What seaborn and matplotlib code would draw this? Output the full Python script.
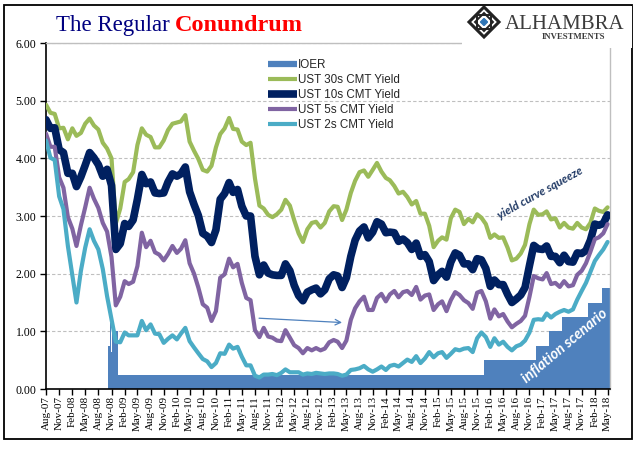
import numpy as np
import pandas as pd
import matplotlib
matplotlib.use('Agg')
import matplotlib.pyplot as plt
import matplotlib.dates as mdates
from matplotlib.lines import Line2D
from matplotlib.patches import Rectangle, Polygon
import seaborn as sns

# monthly readings, Aug-07 .. May-18
months = pd.date_range('2007-08-01', '2018-05-01', freq='MS')

ust30 = [4.93, 4.79, 4.77, 4.52, 4.53,
         4.33, 4.52, 4.39, 4.44, 4.60, 4.69, 4.57, 4.50, 4.27, 4.17, 4.00, 2.87,
         3.13, 3.59, 3.64, 3.76, 4.23, 4.52, 4.41, 4.37, 4.19, 4.19, 4.31, 4.49,
         4.60, 4.62, 4.64, 4.75, 4.29, 4.13, 3.99, 3.80, 3.77, 3.87, 4.19, 4.42,
         4.52, 4.70, 4.51, 4.50, 4.29, 4.23, 4.27, 3.65, 3.18, 3.13, 3.02, 2.98,
         3.03, 3.11, 3.28, 3.18, 2.93, 2.70, 2.55, 2.77, 2.88, 2.90, 2.80, 2.88,
         3.08, 3.17, 3.16, 2.93, 3.11, 3.40, 3.61, 3.76, 3.79, 3.68, 3.80, 3.92,
         3.77, 3.66, 3.62, 3.52, 3.39, 3.42, 3.33, 3.20, 3.26, 3.04, 3.04, 2.83,
         2.46, 2.57, 2.63, 2.59, 2.96, 3.11, 3.07, 2.86, 2.95, 2.89, 3.03, 2.97,
         2.86, 2.62, 2.68, 2.62, 2.63, 2.45, 2.23, 2.26, 2.35, 2.50, 2.86, 3.11,
         3.02, 3.03, 3.08, 2.94, 2.96, 2.80, 2.88, 2.80, 2.78, 2.88, 2.80, 2.77,
         2.88, 3.13, 3.09, 3.07, 3.15]

ust10 = [4.67, 4.52, 4.53, 4.15, 4.10,
         3.74, 3.74, 3.51, 3.68, 3.88, 4.10, 4.01, 3.89, 3.69, 3.81, 3.53, 2.42,
         2.52, 2.87, 2.82, 2.93, 3.29, 3.72, 3.56, 3.59, 3.40, 3.39, 3.40, 3.59,
         3.73, 3.69, 3.73, 3.85, 3.42, 3.20, 3.01, 2.70, 2.65, 2.54, 2.76, 3.29,
         3.39, 3.58, 3.41, 3.46, 3.17, 3.00, 3.00, 2.30, 1.98, 2.15, 2.01, 1.98,
         1.97, 1.97, 2.17, 2.05, 1.80, 1.62, 1.53, 1.68, 1.72, 1.75, 1.65, 1.72,
         1.91, 1.98, 1.96, 1.76, 1.93, 2.30, 2.58, 2.74, 2.81, 2.62, 2.72, 2.90,
         2.86, 2.71, 2.72, 2.71, 2.56, 2.60, 2.54, 2.42, 2.53, 2.30, 2.33, 2.21,
         1.88, 1.98, 2.04, 1.94, 2.20, 2.36, 2.32, 2.17, 2.17, 2.07, 2.26, 2.24,
         2.09, 1.78, 1.89, 1.81, 1.81, 1.64, 1.50, 1.56, 1.63, 1.76, 2.14, 2.49,
         2.43, 2.42, 2.48, 2.30, 2.30, 2.19, 2.32, 2.21, 2.20, 2.36, 2.35, 2.40,
         2.58, 2.86, 2.84, 2.87, 3.02]

ust5 = [4.43, 4.20, 4.20, 3.67, 3.49,
        2.98, 2.78, 2.48, 2.84, 3.15, 3.49, 3.30, 3.14, 2.88, 2.73, 2.29, 1.45,
        1.60, 1.87, 1.82, 1.86, 2.13, 2.71, 2.46, 2.57, 2.37, 2.33, 2.23, 2.34,
        2.48, 2.36, 2.43, 2.58, 2.18, 2.00, 1.76, 1.47, 1.41, 1.18, 1.35, 1.93,
        1.99, 2.26, 2.11, 2.17, 1.84, 1.58, 1.54, 1.02, 0.90, 1.06, 0.91, 0.89,
        0.84, 0.83, 1.02, 0.89, 0.76, 0.71, 0.62, 0.71, 0.67, 0.71, 0.67, 0.70,
        0.81, 0.85, 0.82, 0.71, 0.84, 1.20, 1.40, 1.52, 1.60, 1.37, 1.37, 1.58,
        1.65, 1.52, 1.64, 1.70, 1.59, 1.68, 1.70, 1.63, 1.77, 1.55, 1.62, 1.64,
        1.37, 1.47, 1.52, 1.35, 1.54, 1.68, 1.63, 1.54, 1.49, 1.39, 1.67, 1.70,
        1.52, 1.22, 1.38, 1.26, 1.30, 1.17, 1.07, 1.13, 1.18, 1.27, 1.60, 1.96,
        1.92, 1.90, 2.01, 1.82, 1.84, 1.77, 1.87, 1.78, 1.80, 1.98, 2.05, 2.18,
        2.38, 2.60, 2.63, 2.70, 2.86]

ust2 = [4.31, 4.01, 3.97, 3.34, 3.12,
        2.48, 1.97, 1.50, 2.05, 2.45, 2.77, 2.57, 2.42, 2.08, 1.61, 1.21, 0.82,
        0.81, 0.98, 0.93, 0.93, 0.93, 1.18, 1.02, 1.12, 0.96, 0.95, 0.80, 0.87,
        0.93, 0.86, 0.96, 1.06, 0.83, 0.72, 0.62, 0.52, 0.48, 0.38, 0.45, 0.62,
        0.61, 0.77, 0.70, 0.73, 0.56, 0.41, 0.41, 0.23, 0.20, 0.25, 0.25, 0.26,
        0.24, 0.28, 0.34, 0.29, 0.29, 0.29, 0.25, 0.27, 0.26, 0.28, 0.27, 0.26,
        0.27, 0.27, 0.26, 0.23, 0.25, 0.33, 0.34, 0.36, 0.40, 0.34, 0.30, 0.34,
        0.39, 0.33, 0.40, 0.42, 0.39, 0.45, 0.51, 0.47, 0.57, 0.45, 0.53, 0.64,
        0.55, 0.62, 0.64, 0.54, 0.61, 0.69, 0.67, 0.70, 0.71, 0.64, 0.88, 0.98,
        0.90, 0.73, 0.88, 0.77, 0.82, 0.73, 0.67, 0.74, 0.77, 0.84, 0.98, 1.20,
        1.21, 1.20, 1.31, 1.24, 1.30, 1.34, 1.37, 1.34, 1.38, 1.55, 1.70, 1.84,
        2.03, 2.22, 2.32, 2.42, 2.55]

# IOER step changes
ioer_dates = pd.to_datetime(['2008-10-09', '2008-10-23', '2008-10-30', '2008-11-06',
                             '2008-12-17', '2015-12-17', '2016-12-15', '2017-03-16',
                             '2017-06-15', '2017-12-14', '2018-03-22', '2018-05-20'])
ioer_rates = [0.75, 1.15, 0.65, 1.00, 0.25, 0.50, 0.75, 1.00, 1.25, 1.50, 1.75, 1.75]

labels = ['IOER', 'UST 30s CMT Yield', 'UST 10s CMT Yield',
          'UST 5s CMT Yield', 'UST 2s CMT Yield']
colors = ['#4F81BD', '#9BBB59', '#002060', '#8064A2', '#4BACC6']
widths = [4.5, 3.0, 5.5, 3.0, 3.0]

sns.set_style('white')
plt.rcParams['font.family'] = ['Liberation Serif', 'DejaVu Serif']

W, H = 641, 461
fig = plt.figure(figsize=(W / 100, H / 100), dpi=100)
ax = fig.add_axes([46 / W, 1 - 389 / H, (610 - 46) / W, (389 - 43) / H])

ax.fill_between(ioer_dates, ioer_rates, step='post', color=colors[0], lw=0, zorder=1)
for vals, c, lw in zip([ust30, ust10, ust5, ust2], colors[1:], widths[1:]):
    sns.lineplot(x=months, y=vals, ax=ax, color=c, lw=lw, zorder=3,
                 solid_joinstyle='round')

ax.set_xlim(mdates.date2num(pd.Timestamp('2007-08-01')),
            mdates.date2num(pd.Timestamp('2018-05-18')))
ax.set_ylim(0, 6)
ax.set_yticks(range(0, 7))
ax.yaxis.set_major_formatter(matplotlib.ticker.FormatStrFormatter('%.2f'))
ax.xaxis.set_major_locator(mdates.MonthLocator(bymonth=[2, 5, 8, 11]))
ax.xaxis.set_major_formatter(mdates.DateFormatter('%b-%y'))
ax.set_xlabel('')
ax.set_ylabel('')
ax.tick_params(axis='x', rotation=90, labelsize=8, length=4, width=1,
               direction='out', pad=1, colors='black', bottom=True)
ax.tick_params(axis='y', labelsize=8.5, length=4, width=1, direction='out',
               pad=3, colors='black', left=True)
ax.grid(axis='y', color='#BFBFBF', lw=0.8, ls=(0, (3, 2)), zorder=0)
ax.set_axisbelow(True)
for side in ['left', 'bottom']:
    ax.spines[side].set_color('black')
    ax.spines[side].set_linewidth(1.2)
for side in ['top', 'right']:
    ax.spines[side].set_color('#BFBFBF')
    ax.spines[side].set_linewidth(1.0)

handles = [Line2D([], [], color=c, lw=lw, solid_capstyle='butt')
           for c, lw in zip(colors, widths)]
ax.legend(handles, labels, loc='upper left', bbox_to_anchor=(262 / W, 1 - 53 / H),
          bbox_transform=fig.transFigure, frameon=False, handlelength=2.5,
          handletextpad=0.1, labelspacing=0.27, borderpad=0,
          prop={'family': ['Liberation Sans'], 'size': 8.4})

# arrow and notes
ax.annotate('', xy=(mdates.date2num(pd.Timestamp('2013-04-20')), 1.15),
            xytext=(mdates.date2num(pd.Timestamp('2011-08-10')), 1.23),
            arrowprops=dict(arrowstyle='->', color='#4F81BD', lw=0.9), zorder=5)
ax.text(mdates.date2num(pd.Timestamp('2017-01-15')), 3.40, 'yield curve squeeze',
        rotation=29, rotation_mode='anchor', ha='center', va='center',
        fontsize=8.5, style='italic', fontweight='bold', color='#1F3864',
        family=['Lato', 'DejaVu Sans'], zorder=6)
ax.text(mdates.date2num(pd.Timestamp('2017-07-10')), 0.74, 'inflation scenario',
        rotation=40, rotation_mode='anchor', ha='center', va='center',
        fontsize=10.5, style='italic', fontweight='bold', color='white',
        family=['Lato', 'DejaVu Sans'], zorder=6)

# title
fig.text(56 / W, 1 - 31 / H, 'The Regular', color='#000080', fontsize=16.5,
         ha='left', va='baseline')
fig.text(175 / W, 1 - 31 / H, 'Conundrum', color='#FF0000', fontsize=17.5,
         fontweight='bold', ha='left', va='baseline')

# logo
lax = fig.add_axes([462 / W, 1 - 48 / H, (632 - 462) / W, (48 - 6) / H], zorder=10)
lax.set_xlim(462, 632)
lax.set_ylim(48, 6)
lax.set_xticks([])
lax.set_yticks([])
for s in lax.spines.values():
    s.set_visible(False)
lax.set_facecolor('white')
cx, cy, r = 484, 22, 15
lax.add_patch(Polygon([(cx, cy - r), (cx + r, cy), (cx, cy + r), (cx - r, cy)],
                      closed=True, fill=False, ec='#222222', lw=2.2))
lax.add_patch(Polygon([(cx, cy - r + 6), (cx + r - 6, cy), (cx, cy + r - 6), (cx - r + 6, cy)],
                      closed=True, fill=False, ec='#222222', lw=1.4))
q = 7
lax.add_patch(Rectangle((cx - q, cy - q), 2 * q, 2 * q, fill=False, ec='#222222', lw=1.4))
lax.add_patch(Polygon([(cx, cy - 3.5), (cx + 3.5, cy), (cx, cy + 3.5), (cx - 3.5, cy)],
                      closed=True, color='#2E75B6'))
lax.text(505, 29, 'ALHAMBRA', fontsize=15, color='#3c3c3c', ha='left', va='baseline')
lax.text(573, 39, 'INVESTMENTS', fontsize=6.3, color='#3c3c3c', ha='center',
         va='baseline', fontweight='bold')

fig.patches.append(Rectangle((4 / W, 1 - 439 / H), (632 - 4) / W, (439 - 5) / H,
                             transform=fig.transFigure, fill=False, ec='black', lw=1.3))

fig.savefig('out.png', dpi=100)
